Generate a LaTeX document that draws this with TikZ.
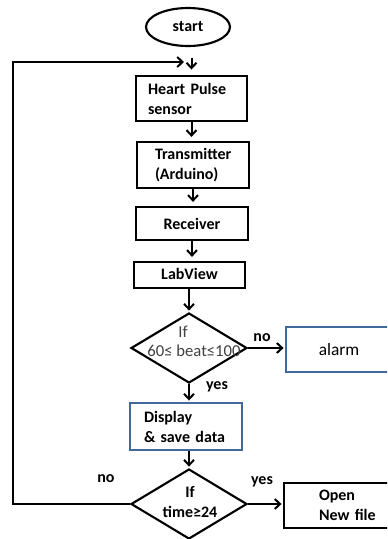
\documentclass[tikz,border=0pt]{standalone}
\usepackage{fontspec}
\setmainfont{Carlito}
\usetikzlibrary{shapes.geometric,arrows.meta,calc}
\definecolor{boxblue}{RGB}{65,105,155}
\definecolor{softgray}{RGB}{64,64,64}
\tikzset{
  base/.style={font=\bfseries\fontsize{12pt}{15pt}\selectfont, text=black},
  procbox/.style={base, draw=black, line width=1.7pt, rectangle, inner ysep=0pt},
  bluebox/.style={procbox, draw=boxblue},
  decision/.style={draw=black, line width=1.6pt, diamond, inner sep=0pt,
    minimum width=87pt, minimum height=52.5pt},
  flow/.style={line width=1.5pt, -{Straight Barb[length=4pt,width=7.5pt,line width=1.5pt]}},
  plainline/.style={line width=1.5pt},
  tag/.style={base, inner sep=0pt}
}
\begin{document}
\begin{tikzpicture}[x=0.75pt,y=-0.75pt]
  \useasboundingbox (0,0) rectangle (387,539);
  \fill[white] (0,0) rectangle (387,539);
  \clip (0,0) rectangle (387,539);

  % terminal and process boxes
  \node[base, ellipse, draw=black, line width=1.6pt, minimum width=63pt, minimum height=28.5pt, inner sep=0pt]
    (start) at (188,27) {start};
  \node[procbox, minimum width=83.25pt, minimum height=33.75pt, inner xsep=9pt, text width=65.25pt, align=left]
    (heart) at (191.5,98.5) {Heart Pulse\\sensor};
  \node[procbox, minimum width=84pt, minimum height=34.5pt, inner xsep=13.5pt, text width=57pt, align=left]
    (trans) at (193,165) {Transmitter\\(Arduino)};
  \node[procbox, minimum width=84pt, minimum height=24.75pt]
    (recv) at (192,223.5) {Receiver};
  \node[procbox, minimum width=83.25pt, minimum height=19.5pt]
    (lab) at (189.5,275) {\raisebox{1.5pt}{LabView}};

  % first decision
  \node[decision] (d1) at (189,348) {};
  \node[inner sep=0pt, text=softgray, font=\fontsize{12.5pt}{15pt}\selectfont] (d1a) at (183,332) {If};
  \node[inner sep=0pt, text=softgray, font=\fontsize{12.5pt}{15pt}\selectfont] (d1b) at (194,351) {60≤ beat≤100};
  \node[rectangle, draw=boxblue, line width=1.6pt, minimum width=79.5pt, minimum height=33.75pt,
    font=\fontsize{13pt}{15pt}\selectfont] (alarm) at (339,349.5) {alarm};

  \node[bluebox, minimum width=84pt, minimum height=35.25pt, inner xsep=10.5pt, text width=63pt, align=left]
    (disp) at (186,426.5) {Display\\\& save data};

  % second decision
  \node[decision] (d2) at (189,504) {};
  \node[tag, align=center] (d2t) at (190,502) {If\\time≥24};
  \node[procbox, minimum width=105pt, minimum height=33.75pt, inner xsep=26.25pt, text width=52.5pt, align=left]
    (open) at (354,505.5) {Open\\New file};

  % branch labels
  \node[tag] (no1) at (262,338) {no};
  \node[tag] (yes1) at (217,387) {yes};
  \node[tag] (no2) at (106,479) {no};
  \node[tag] (yes2) at (262,482) {yes};

  % connectors
  \draw[flow, shorten <=8pt, shorten >=4pt] (heart.north |- start.south) -- (heart.north);
  \draw[flow, shorten >=3pt] (heart.south) -- (heart.south |- trans.north);
  \draw[flow, shorten >=3pt] (trans.south) -- (trans.south |- recv.north);
  \draw[flow, shorten >=3pt] (recv.south) -- (recv.south |- lab.north);
  \draw[flow, shorten >=1pt] (d1.north |- lab.south) -- (d1.north);
  \draw[flow, shorten >=1pt] (d1.east) -- (d1.east -| alarm.west);
  \draw[flow, shorten >=1pt] (d1.south) -- (d1.south |- disp.north);
  \draw[flow, shorten >=1pt] (d2.north |- disp.south) -- (d2.north);
  \draw[flow, shorten >=1pt] (d2.east) -- (d2.east -| open.west);

  % loop back to the sensor
  \coordinate (corner) at (13,62);
  \coordinate (loop) at (184,62);
  \draw[flow] (d2.west) -| (corner) -- (loop);
\end{tikzpicture}
\end{document}
